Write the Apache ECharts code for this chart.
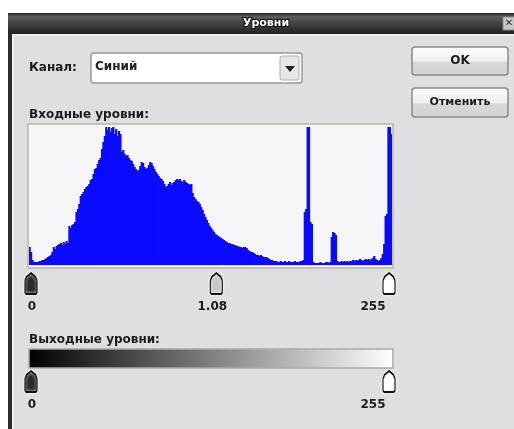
<!DOCTYPE html>
<html>
<head>
<meta charset="utf-8">
<script src="https://cdn.jsdelivr.net/npm/echarts@6/dist/echarts.min.js"></script>
<style>
html, body { margin: 0; padding: 0; background: #fff; }
#main { width: 514px; height: 429px; }
</style>
</head>
<body>
<div id="main"></div>
<script>
// гистограмма синего канала, 256 уровней (высоты оценены по картинке)
var histogram = [
    17, 12, 4, 2, 2, 2, 2, 3, 3, 4, 4, 5, 6, 7, 8, 9,
    12, 17, 15, 18, 19, 20, 21, 19, 22, 20, 23, 21, 38, 36, 39, 40,
    42, 52, 55, 60, 68, 70, 72, 75, 77, 78, 80, 84, 85, 90, 95, 96,
    100, 104, 106, 115, 122, 128, 137, 134, 137, 132, 136, 137, 130, 135, 128, 133,
    130, 112, 114, 110, 108, 109, 106, 104, 103, 100, 97, 95, 93, 94, 98, 102,
    101, 97, 95, 96, 99, 102, 101, 98, 95, 92, 90, 88, 86, 85, 83, 80,
    77, 78, 80, 82, 79, 81, 82, 84, 85, 84, 85, 83, 82, 84, 82, 81,
    80, 79, 80, 71, 67, 65, 63, 62, 60, 57, 54, 50, 47, 44, 41, 38,
    36, 34, 32, 30, 29, 28, 27, 26, 25, 24, 23, 22, 21, 21, 20, 20,
    19, 19, 18, 18, 17, 17, 16, 17, 17, 16, 14, 13, 12, 12, 11, 10,
    9, 9, 8, 9, 8, 7, 7, 7, 6, 5, 4, 4, 3, 3, 3, 2,
    2, 3, 2, 2, 3, 2, 2, 3, 2, 2, 2, 3, 2, 2, 2, 3,
    3, 4, 52, 55, 137, 137, 42, 40, 2, 1, 1, 1, 1, 2, 1, 1,
    1, 2, 2, 1, 2, 27, 32, 31, 29, 3, 2, 2, 3, 2, 3, 2,
    3, 2, 3, 3, 4, 3, 4, 3, 4, 5, 4, 3, 4, 5, 4, 5,
    4, 5, 6, 8, 5, 4, 3, 4, 6, 10, 20, 48, 50, 137, 137, 130
];
var levels = histogram.map(function (v, i) { return i; });

var inputSliders = [0, 132, 255];
var inputLabels = ['0', '1.08', '255'];
var inputFills = ['#2a2a2a', '#c8c8c8', '#ffffff'];
var outputSliders = [0, 255];
var outputLabels = ['0', '255'];
var outputFills = ['#2a2a2a', '#ffffff'];

var FONT = '"DejaVu Sans", sans-serif';
var sliderPath = 'path://M6,0 L10,4 L10,5 Q11,6 11,8 L11,18 Q11,20 9,20 L3,20 Q1,20 1,18 L1,8 Q1,6 2,5 L2,4 Z';

function sliderData(vals, labels, fills) {
    return vals.map(function (v, i) {
        var last = i === vals.length - 1;
        return {
            value: [v, 0],
            itemStyle: { color: fills[i] },
            label: {
                formatter: labels[i],
                offset: last ? [-16, 0] : (i === 0 ? [1, 0] : [-4, 0])
            }
        };
    });
}

var myChart = echarts.init(document.getElementById('main'));

function txt(x, y, s, size, align, color) {
    return {
        type: 'text', x: x, y: y, z: 5,
        style: {
            text: s, font: 'bold ' + size + 'px ' + FONT,
            fill: color || '#1a1a1a', align: align || 'left', verticalAlign: 'middle'
        }
    };
}

var btnFill = function () {
    return new echarts.graphic.LinearGradient(0, 0, 0, 1, [
        { offset: 0, color: '#fdfdfd' }, { offset: 0.5, color: '#f0f0f0' },
        { offset: 0.55, color: '#d8d8d8' }, { offset: 1, color: '#d2d2d2' }]);
};

var graphics = [
    // окно
    { type: 'rect', z: 0, shape: { x: 8, y: 13, width: 506, height: 416 }, style: { fill: '#dfdfe2' } },
    { type: 'rect', z: 1, shape: { x: 8, y: 13, width: 4, height: 416 }, style: { fill: '#2b2b2b' } },
    { type: 'rect', z: 1, shape: { x: 12, y: 34, width: 1.5, height: 395 }, style: { fill: '#f6f6f6' } },
    { type: 'rect', z: 1, shape: { x: 12, y: 34, width: 502, height: 1.5 }, style: { fill: '#f6f6f6' } },
    // заголовок
    { type: 'rect', z: 1, shape: { x: 8, y: 13, width: 506, height: 21 },
      style: { fill: new echarts.graphic.LinearGradient(0, 0, 0, 1, [
          { offset: 0, color: '#1e1e1e' }, { offset: 0.15, color: '#5c5c5c' },
          { offset: 0.6, color: '#3c3c3c' }, { offset: 1, color: '#202020' }]) } },
    { type: 'text', x: 266, y: 23.5, z: 5,
      style: { text: 'Уровни', font: 'bold 11px ' + FONT, fill: '#fff', align: 'center', verticalAlign: 'middle',
               stroke: '#111', lineWidth: 2 } },
    { type: 'rect', z: 2, shape: { x: 503, y: 17, width: 12, height: 13 }, style: { fill: '#c8c8c8', stroke: '#888' } },
    { type: 'text', x: 509, y: 23.5, z: 5,
      style: { text: '✕', font: 'bold 10px ' + FONT, fill: '#333', align: 'center', verticalAlign: 'middle' } },
    // канал
    txt(29, 68, 'Канал:', 12),
    { type: 'rect', z: 2, shape: { x: 91, y: 53, width: 211, height: 30, r: 3 }, style: { fill: '#fff', stroke: '#9a9a9a', lineWidth: 1.5 } },
    txt(95, 67, 'Синий', 12, 'left', '#222'),
    { type: 'rect', z: 3, shape: { x: 280, y: 56, width: 19, height: 24, r: 2 }, style: { fill: '#e6e6e6', stroke: '#b0b0b0' } },
    { type: 'polygon', z: 4, shape: { points: [[285, 66], [295, 66], [290, 72]] }, style: { fill: '#222' } },
    // кнопки
    { type: 'rect', z: 2, shape: { x: 412, y: 47, width: 96, height: 28, r: 3 },
      style: { fill: btnFill(), stroke: '#8a8a8a', lineWidth: 1.5 } },
    txt(460, 61, 'OK', 12, 'center'),
    { type: 'rect', z: 2, shape: { x: 412, y: 88, width: 96, height: 29, r: 3 },
      style: { fill: btnFill(), stroke: '#8a8a8a', lineWidth: 1.5 } },
    txt(460, 102, 'Отменить', 11, 'center'),
    // входные уровни
    txt(29, 115, 'Входные уровни:', 12),
    { type: 'rect', z: 1, shape: { x: 28, y: 124, width: 365, height: 144 }, style: { fill: '#f6f6f8', stroke: '#b9b7a6', lineWidth: 1.5 } },
    // выходные уровни
    txt(29, 340, 'Выходные уровни:', 12),
    { type: 'rect', z: 2, shape: { x: 29, y: 349, width: 364, height: 19 },
      style: { fill: new echarts.graphic.LinearGradient(0, 0, 1, 0, [
          { offset: 0, color: '#000' }, { offset: 1, color: '#fff' }]),
               stroke: '#aaaaaa', lineWidth: 1.5 } }
];

var sliderLabel = {
    show: true, position: 'bottom', distance: 6,
    fontFamily: FONT, fontWeight: 'bold', fontSize: 12, color: '#1a1a1a'
};

var option = {
    animation: false,
    backgroundColor: '#ffffff',
    graphic: graphics,
    grid: [
        { left: 29, right: 122, top: 126, height: 139 },
        { left: 31, right: 125, top: 272, height: 23 },
        { left: 31, right: 125, top: 370, height: 23 }
    ],
    xAxis: [
        { gridIndex: 0, type: 'category', data: levels, show: false, boundaryGap: true },
        { gridIndex: 1, type: 'value', min: 0, max: 255, show: false },
        { gridIndex: 2, type: 'value', min: 0, max: 255, show: false }
    ],
    yAxis: [
        { gridIndex: 0, type: 'value', min: 0, max: 139, show: false },
        { gridIndex: 1, type: 'value', min: -1, max: 1, show: false },
        { gridIndex: 2, type: 'value', min: -1, max: 1, show: false }
    ],
    series: [
        {
            type: 'bar', xAxisIndex: 0, yAxisIndex: 0,
            data: histogram.map(function (v) { return v + 1; }),
            barWidth: 2.2,
            itemStyle: { color: '#0a0aff' },
            silent: true
        },
        {
            type: 'scatter', xAxisIndex: 1, yAxisIndex: 1,
            symbol: sliderPath, symbolSize: [12, 21],
            data: sliderData(inputSliders, inputLabels, inputFills),
            itemStyle: { borderColor: '#111', borderWidth: 1.5, shadowColor: '#fff', shadowBlur: 3, opacity: 1 },
            label: sliderLabel,
            silent: true
        },
        {
            type: 'scatter', xAxisIndex: 2, yAxisIndex: 2,
            symbol: sliderPath, symbolSize: [12, 21],
            data: sliderData(outputSliders, outputLabels, outputFills),
            itemStyle: { borderColor: '#111', borderWidth: 1.5, shadowColor: '#fff', shadowBlur: 3, opacity: 1 },
            label: sliderLabel,
            silent: true
        }
    ]
};

myChart.setOption(option);
</script>
</body>
</html>
